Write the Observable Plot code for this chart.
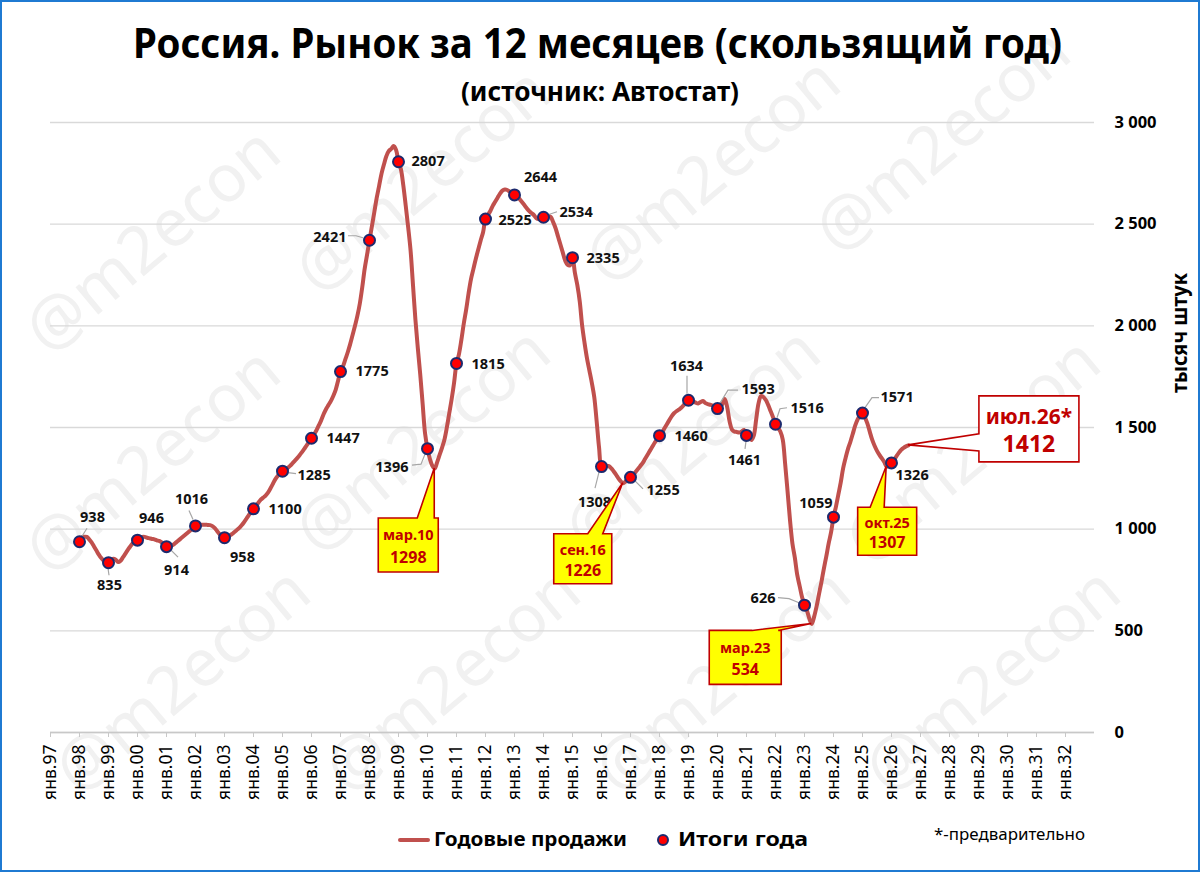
<!DOCTYPE html>
<html><head><meta charset="utf-8">
<script src="https://cdn.jsdelivr.net/npm/d3@7"></script>
<script src="https://cdn.jsdelivr.net/npm/@observablehq/plot@0.6"></script>
<style>
body{margin:0;background:#fff;}
#wrap{position:relative;width:1200px;height:872px;overflow:hidden;font-family:"Noto Sans",sans-serif;background:#fff;}
#frame{position:absolute;left:0;top:0;width:1196px;height:868px;border:2px solid #1f7ad2;pointer-events:none;}
.t{position:absolute;white-space:nowrap;line-height:1;transform-origin:0 0;}
.wm{position:absolute;color:#f1f1f1;font-size:66px;white-space:nowrap;transform-origin:0 100%;line-height:1.3;}
#chart{position:absolute;left:0;top:0;}
</style></head>
<body><div id="wrap"></div>
<script>
// ---------- DATA ----------
// rolling 12-month sales, thousand units, monthly from Dec 1997 to Jul 2026
const sales = [
  938,
  960, 963, 962, 950, 935, 915, 895, 875, 858, 845, 838, 835,          // 1998
  845, 855, 850, 838, 845, 862, 880, 898, 915, 930, 940, 946,          // 1999
  955, 962, 962, 958, 955, 952, 950, 945, 942, 935, 925, 914,          // 2000
  910, 918, 925, 935, 945, 955, 965, 975, 985, 995, 1005, 1016,        // 2001
  1020, 1022, 1022, 1022, 1021, 1020, 1015, 1005, 990, 975, 963, 958,  // 2002
  962, 968, 975, 985, 995, 1005, 1018, 1033, 1050, 1068, 1085, 1100,   // 2003
  1115, 1130, 1145, 1155, 1165, 1180, 1200, 1222, 1245, 1262, 1275, 1285, // 2004
  1292, 1300, 1310, 1322, 1335, 1348, 1362, 1378, 1395, 1412, 1430, 1447, // 2005
  1465, 1485, 1510, 1535, 1565, 1590, 1610, 1630, 1655, 1685, 1730, 1775, // 2006
  1800, 1835, 1870, 1910, 1955, 2000, 2050, 2110, 2190, 2280, 2350, 2421, // 2007
  2490, 2560, 2630, 2690, 2750, 2795, 2835, 2860, 2870, 2884, 2865, 2807, // 2008
  2770, 2690, 2590, 2485, 2370, 2200, 2030, 1890, 1760, 1615, 1470, 1396, // 2009
  1345, 1312, 1298, 1330, 1365, 1400, 1440, 1500, 1570, 1640, 1720, 1815, // 2010
  1860, 1930, 2010, 2080, 2160, 2230, 2280, 2330, 2375, 2420, 2460, 2525, // 2011
  2545, 2565, 2590, 2610, 2630, 2650, 2665, 2670, 2668, 2660, 2655, 2644, // 2012
  2640, 2625, 2610, 2595, 2580, 2565, 2555, 2545, 2530, 2525, 2528, 2534, // 2013
  2538, 2540, 2535, 2510, 2480, 2440, 2400, 2360, 2320, 2300, 2298, 2335, // 2014
  2260, 2200, 2120, 2000, 1915, 1840, 1780, 1720, 1650, 1530, 1400, 1308, // 2015
  1312, 1312, 1310, 1300, 1285, 1268, 1250, 1235, 1226, 1235, 1245, 1255, // 2016
  1265, 1280, 1295, 1310, 1325, 1345, 1365, 1385, 1405, 1425, 1443, 1460, // 2017
  1475, 1495, 1515, 1535, 1555, 1570, 1580, 1588, 1597, 1610, 1622, 1634, // 2018
  1636, 1628, 1622, 1618, 1625, 1630, 1620, 1615, 1612, 1608, 1600, 1593, // 2019
  1600, 1615, 1640, 1600, 1530, 1490, 1480, 1478, 1475, 1480, 1488, 1461, // 2020
  1455, 1438, 1460, 1540, 1620, 1655, 1650, 1635, 1610, 1580, 1550, 1516, // 2021
  1500, 1480, 1440, 1320, 1185, 1045, 930, 860, 775, 720, 665, 626,       // 2022
  600, 560, 534, 570, 620, 680, 740, 805, 865, 930, 985, 1059,            // 2023
  1110, 1170, 1230, 1300, 1350, 1395, 1430, 1470, 1510, 1540, 1560, 1571, // 2024
  1550, 1520, 1480, 1440, 1410, 1385, 1365, 1348, 1330, 1307, 1315, 1326, // 2025
  1340, 1358, 1375, 1390, 1400, 1407, 1412                                // 2026
];
const firstPointYear = 1997, firstPointMonth = 12;

// annual totals ("Итоги года")
const yearEnds = [1997,1998,1999,2000,2001,2002,2003,2004,2005,2006,2007,2008,2009,2010,2011,2012,2013,2014,2015,2016,2017,2018,2019,2020,2021,2022,2023,2024,2025];
const yearTotals = [938,835,946,914,1016,958,1100,1285,1447,1775,2421,2807,1396,1815,2525,2644,2534,2335,1308,1255,1460,1634,1593,1461,1516,626,1059,1571,1326];

// callouts
const calloutTexts  = ["мар.10","сен.16","мар.23","окт.25","июл.26*"];
const calloutYears  = [2010, 2016, 2023, 2025, 2026];
const calloutMonths = [3, 9, 3, 10, 7];
const calloutValues = [1298, 1226, 534, 1307, 1412];

// axes
const tickYears = d3.range(1997, 2033);
const monthAbbr = "янв.";
const yTicks = [0, 500, 1000, 1500, 2000, 2500, 3000];

// texts
const titleText = "Россия. Рынок за 12 месяцев (скользящий год)";
const subtitleText = "(источник: Автостат)";
const yLabelText = "тысяч штук";
const legendLineText = "Годовые продажи";
const legendDotText = "Итоги года";
const noteText = "*-предварительно";
const watermarkText = "@m2econ";

// ---------- LAYOUT / STYLE CONFIG ----------
const lineColor = "#c0504d", dotFill = "#ff0000", dotStroke = "#1c2a6e", calloutRed = "#c00000";
// per annual label: [textAnchor, dx, dy, leader polyline offsets]
const labelPlacement = [
  ["middle", 13, -24, [[3,-5],[8,-13]]],
  ["middle", 1, 23, [[0,6],[1,13]]],
  ["middle", 14, -22, null],
  ["middle", 10, 24, [[4,3],[12,11]]],
  ["middle", -4, -27, [[-2,-6],[-6,-15]]],
  ["middle", 18, 20, null],
  ["start", 15, 1, null],
  ["start", 15, 4, [[6,2],[14,3]]],
  ["start", 15, 0, null],
  ["start", 15, 0, null],
  ["end", -23, -3, [[-6,-2],[-13,-4],[-21,-4]]],
  ["start", 13, 0, null],
  ["end", -19, 19, [[-2,6],[-6,16],[-15,17]]],
  ["start", 15, 1, null],
  ["start", 13, 1, null],
  ["middle", 26, -18, null],
  ["start", 16, -5, [[5,-2],[14,-5]]],
  ["start", 14, 1, null],
  ["middle", -7, 36, [[-2,6],[-6,22]]],
  ["start", 16, 13, [[5,4],[13,12]]],
  ["start", 15, 1, null],
  ["middle", -2, -34, [[-1,-6],[-1,-24]]],
  ["start", 24, -19, [[3,-5],[11,-18],[21,-18]]],
  ["middle", -2, 25, [[0,6],[-1,14]]],
  ["start", 15, -16, [[2,-6],[5,-15],[12,-16]]],
  ["end", -29, -7, [[-5,-2],[-15,-6],[-26,-7]]],
  ["end", -1, -14, null],
  ["start", 18, -16, [[3,-5],[10,-15],[17,-15]]],
  ["start", 4, 12, null]
];
// callout boxes relative to the pointed point: box center (bx,by), size, pointer base points, side
const calloutLayout = [
  {bx:-26, by:77, w:60, h:54, side:"top", base:[[-17,50],[0,50]], fill:"#ffff00", s1:14.5, s2:16},
  {bx:-40, by:76, w:58, h:50, side:"top", base:[[-35,51],[-20,51]], fill:"#ffff00", s1:14.5, s2:16},
  {bx:-66, by:34, w:72, h:54, side:"top", base:[[-59,7],[-33,7]], fill:"#ffff00", s1:14.5, s2:16},
  {bx:1, by:65, w:59, h:48, side:"top", base:[[-16,41],[-2,41]], fill:"#ffff00", s1:14.5, s2:16},
  {bx:121, by:-16, w:100, h:66, side:"left", base:[[71,-11],[71,6]], fill:"#ffffff", s1:21, s2:23}
];
// watermark anchor points (bottom-left of text)
const wmPos = [[60,370],[330,310],[620,300],[850,270],[60,590],[330,570],[600,570],[880,580],[90,810],[360,810],[630,810],[900,810]];

// ---------- BUILD ----------
const lineData = sales.map((v, i) => ({t: firstPointYear + (firstPointMonth + i) / 12, v}));
const dotData = yearEnds.map((y, i) => ({t: y + 1, v: yearTotals[i]}));
const fmtY = v => v >= 1000 ? `${Math.floor(v/1000)} ${String(v%1000).padStart(3,"0")}` : String(v);

const labelMarks = dotData.map((d, i) => Plot.text([d], {
  x: "t", y: "v", text: () => String(yearTotals[i]),
  textAnchor: labelPlacement[i][0], dx: labelPlacement[i][1], dy: labelPlacement[i][2],
  fontSize: 14.5, fontWeight: "bold", fill: "#111"
}));

function leadersMark(index, scales) {
  const g = d3.create("svg:g").attr("fill", "none").attr("stroke", "#a6a6a6").attr("stroke-width", 1.2);
  dotData.forEach((d, i) => {
    const L = labelPlacement[i][3]; if (!L) return;
    const px = scales.x(d.t), py = scales.y(d.v);
    g.append("path").attr("d", d3.line()(L.map(([a, b]) => [px + a, py + b])));
  });
  return g.node();
}

function calloutsMark(index, scales) {
  const g = d3.create("svg:g");
  calloutTexts.forEach((txt, i) => {
    const L = calloutLayout[i];
    const tx = scales.x(calloutYears[i] + calloutMonths[i] / 12), ty = scales.y(calloutValues[i]);
    const cx = tx + L.bx, cy = ty + L.by, x0 = cx - L.w/2, x1 = cx + L.w/2, y0 = cy - L.h/2, y1 = cy + L.h/2;
    const b1 = [tx + L.base[0][0], ty + L.base[0][1]], b2 = [tx + L.base[1][0], ty + L.base[1][1]];
    let pts;
    if (L.side === "top") pts = [[x0,y0], b1, [tx,ty], b2, [x1,y0], [x1,y1], [x0,y1]];
    else pts = [[x0,y0], [x1,y0], [x1,y1], [x0,y1], b2, [tx,ty], b1];
    g.append("path").attr("d", d3.line()(pts) + "Z").attr("fill", L.fill).attr("stroke", calloutRed).attr("stroke-width", 1.6).attr("stroke-linejoin", "miter");
    g.append("text").attr("x", cx).attr("y", cy - L.h*0.2).attr("text-anchor", "middle").attr("dominant-baseline", "central")
      .attr("font-size", L.s1).attr("font-weight", "bold").attr("fill", calloutRed).text(txt);
    g.append("text").attr("x", cx).attr("y", cy + L.h*0.22).attr("text-anchor", "middle").attr("dominant-baseline", "central")
      .attr("font-size", L.s2).attr("font-weight", "bold").attr("fill", calloutRed).text(String(calloutValues[i]));
  });
  return g.node();
}

const wrap = document.getElementById("wrap");

// watermarks (behind the chart)
wmPos.forEach(([x, y]) => {
  const d = document.createElement("div");
  d.className = "wm"; d.textContent = watermarkText;
  d.style.left = x + "px"; d.style.top = (y - 86) + "px";
  d.style.transform = "rotate(-40deg)";
  wrap.appendChild(d);
});

const plot = Plot.plot({
  width: 1200, height: 872,
  marginTop: 122, marginBottom: 140, marginLeft: 50, marginRight: 106,
  style: {fontFamily: '"Noto Sans", sans-serif', background: "transparent", color: "#000", overflow: "visible"},
  x: {domain: [1997, 2033], axis: null},
  y: {domain: [0, 3000], axis: null},
  marks: [
    Plot.gridY({ticks: yTicks, stroke: "#d9d9d9", strokeOpacity: 1, strokeWidth: 1.3}),
    Plot.ruleY([0], {stroke: "#c8c8c8", strokeWidth: 1.3}),
    Plot.axisX({ticks: tickYears, anchor: "bottom", tickFormat: y => monthAbbr + String(y % 100).padStart(2, "0"),
      tickRotate: -90, tickSize: 5, tickPadding: 7, fontSize: 17.5, stroke: "#c8c8c8", label: null}),
    Plot.axisY({ticks: yTicks, anchor: "right", tickSize: 0, tickPadding: 20, tickFormat: fmtY,
      fontSize: 16.5, fontWeight: "bold", label: null}),
    Plot.line(lineData, {x: "t", y: "v", stroke: lineColor, strokeWidth: 4, curve: "catmull-rom", strokeLinejoin: "round"}),
    leadersMark,
    Plot.dot(dotData, {x: "t", y: "v", r: 5.5, fill: dotFill, stroke: dotStroke, strokeWidth: 2}),
    ...labelMarks,
    calloutsMark
  ]
});
plot.id = "chart";
wrap.appendChild(plot);

// fitted HTML texts
function addText(str, o) {
  const d = document.createElement("div");
  d.className = "t"; d.textContent = str;
  d.style.fontSize = o.size + "px"; d.style.fontWeight = o.weight || 400; d.style.color = o.color || "#000";
  wrap.appendChild(d);
  const w = d.getBoundingClientRect().width;
  const sx = o.w ? o.w / w : 1;
  const fw = w * sx;
  if (o.rotate) {
    d.style.left = (o.cx - w/2) + "px"; d.style.top = (o.cy - o.size/2) + "px";
    d.style.transformOrigin = "50% 50%";
    d.style.transform = `rotate(${o.rotate}deg) scaleX(${sx})`;
  } else {
    const left = o.cx != null ? o.cx - fw/2 : o.x;
    d.style.left = left + "px"; d.style.top = (o.cy - 0.53*o.size) + "px";
    d.style.transform = `scaleX(${sx})`;
  }
  return d;
}
addText(titleText, {cx: 597.5, cy: 44, size: 40.5, weight: 700, w: 929});
addText(subtitleText, {cx: 600, cy: 91, size: 27, weight: 700, w: 278});
addText(yLabelText, {cx: 1178, cy: 333, size: 22, weight: 700, w: 120, rotate: -90});
addText(legendLineText, {x: 434, cy: 840, size: 20, weight: 700, w: 193});
addText(legendDotText, {x: 678, cy: 840, size: 20, weight: 700, w: 130});
addText(noteText, {x: 934, cy: 835, size: 16.5, weight: 400, w: 151});

// legend symbols
const ls = document.createElement("div");
Object.assign(ls.style, {position: "absolute", left: "398px", top: "838px", width: "32px", height: "4px", background: lineColor, borderRadius: "2px"});
wrap.appendChild(ls);
const ds = document.createElement("div");
Object.assign(ds.style, {position: "absolute", left: "657px", top: "834px", width: "8px", height: "8px", background: dotFill, border: "2px solid " + dotStroke, borderRadius: "50%"});
wrap.appendChild(ds);

const fr = document.createElement("div"); fr.id = "frame"; wrap.appendChild(fr);
</script></body></html>
